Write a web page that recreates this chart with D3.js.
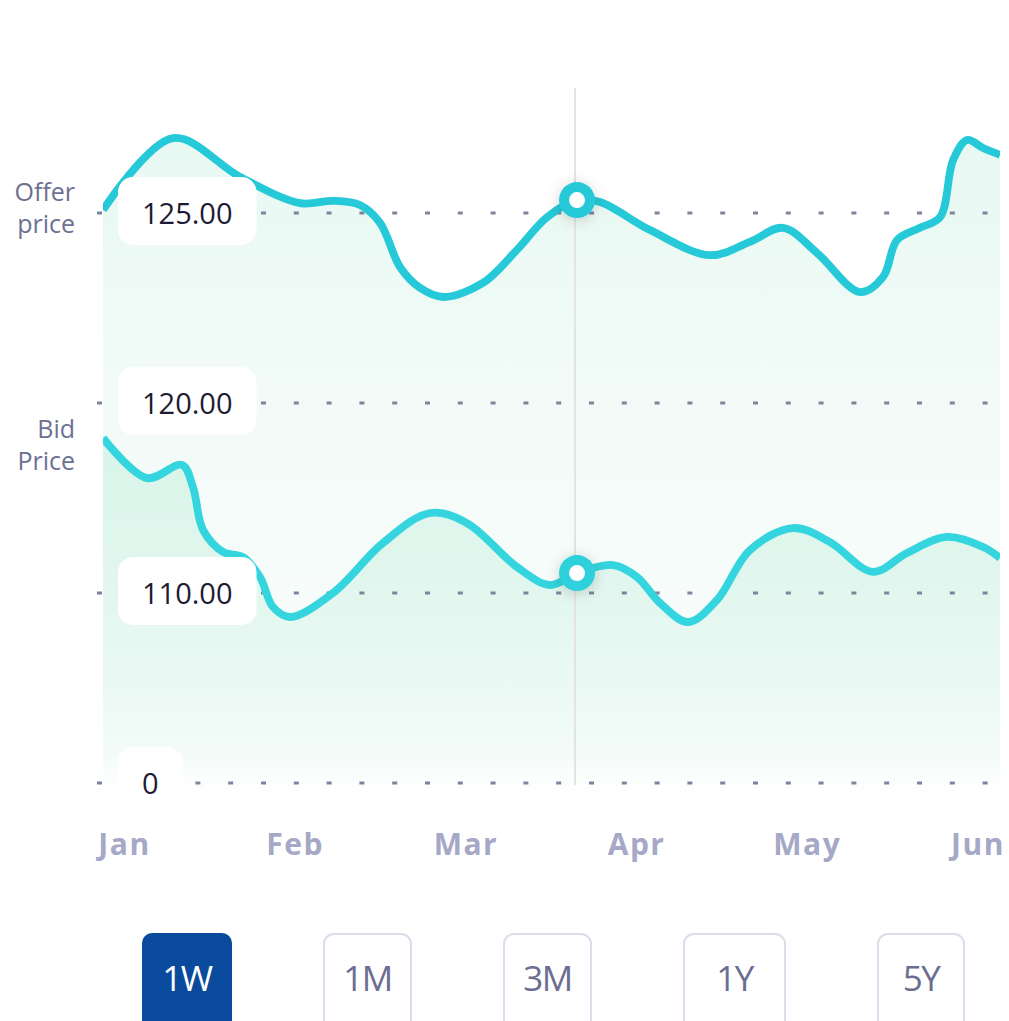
<!DOCTYPE html>
<html><head><meta charset="utf-8">
<script src="https://cdn.jsdelivr.net/npm/d3@7"></script>
<style>
html,body{margin:0;padding:0;background:#fff;}
svg{display:block;font-family:'Open Sans','Noto Sans',sans-serif;}
</style>
</head><body>
<svg id="chart" width="1009" height="1021"></svg>
<script>
// ---------- data ----------
const months = ["Jan","Feb","Mar","Apr","May","Jun"];
const priceTicks = [125, 120, 110, 0];
const priceTickLabels = ["125.00","120.00","110.00","0"];
const seriesNames = ["Offer\nprice","Bid\nPrice"];

// x position in months (0 = Jan, 5 = Jun)
const offerMonth = [-0.126,0.284,0.677,1.028,1.221,1.379,1.497,1.614,1.731,1.866,2.100,2.299,2.475,2.651,2.786,3.079,3.430,3.664,3.858,4.057,4.309,4.444,4.526,4.660,4.778,4.854,4.936,5.030,5.129];
const offerPrice = [125.08,126.97,125.95,125.26,125.32,125.21,124.74,123.58,123.03,122.79,123.16,124.03,124.89,125.34,125.29,124.55,123.89,124.24,124.61,123.95,122.92,123.32,124.29,124.61,124.89,126.39,126.92,126.71,126.53];

const bidMonth = [-0.126,0.132,0.337,0.401,0.460,0.577,0.694,0.794,0.870,0.970,1.221,1.514,1.790,2.006,2.299,2.493,2.651,2.862,3.003,3.137,3.301,3.471,3.664,3.916,4.133,4.385,4.584,4.819,5.030,5.129];
const bidPrice = [118.16,116.05,116.74,115.58,113.32,112.16,111.89,110.84,101.89,96.11,110.00,112.63,114.21,113.68,111.37,110.42,111.05,111.47,110.84,104.21,93.21,105.95,112.26,113.42,112.68,111.11,112.11,112.95,112.42,111.84];

const cursorMonth = 2.651;
const cursorOffer = 125.34;
const cursorBid = 111.05;

const ranges = ["1W","1M","3M","1Y","5Y"];
const activeRange = "1W";

// ---------- layout ----------
const svg = d3.select("#chart");
const plotLeft = 103, plotRight = 1000, plotBottom = 808;
const x = d3.scaleLinear().domain([0, 5]).range([124.5, 978]);
const y = d3.scaleLinear().domain([0, 110, 120, 125]).range([783, 593, 403, 213]);
const xMonths = d3.scalePoint().domain(months).range([124.5, 978]);

const defs = svg.append("defs");
defs.append("clipPath").attr("id","plotClip").append("rect")
  .attr("x",plotLeft).attr("y",0).attr("width",plotRight-plotLeft).attr("height",plotBottom);
const g1 = defs.append("linearGradient").attr("id","gOffer").attr("gradientUnits","userSpaceOnUse")
  .attr("x1",0).attr("y1",130).attr("x2",0).attr("y2",plotBottom);
[[0,"#e6f8f1",0.95],[0.45,"#f0faf6",0.8],[0.88,"#f6fcfa",0.6],[1,"#ffffff",0]].forEach(s=>
  g1.append("stop").attr("offset",s[0]).attr("stop-color",s[1]).attr("stop-opacity",s[2]));
const g2 = defs.append("linearGradient").attr("id","gBid").attr("gradientUnits","userSpaceOnUse")
  .attr("x1",0).attr("y1",440).attr("x2",0).attr("y2",plotBottom);
[[0,"#d3f3e6",0.8],[0.4,"#d8f4e9",0.7],[0.85,"#e8f8f2",0.5],[1,"#ffffff",0]].forEach(s=>
  g2.append("stop").attr("offset",s[0]).attr("stop-color",s[1]).attr("stop-opacity",s[2]));
const sh = defs.append("filter").attr("id","shadow").attr("x","-100%").attr("y","-100%").attr("width","300%").attr("height","300%");
sh.append("feDropShadow").attr("dx",0).attr("dy",2).attr("stdDeviation",7).attr("flood-color","#000").attr("flood-opacity",0.18);

const offerData = offerMonth.map((m,i)=>[m, offerPrice[i]]);
const bidData = bidMonth.map((m,i)=>[m, bidPrice[i]]);

const curve = d3.curveCatmullRom.alpha(0.5);
const area = d3.area().x(d=>x(d[0])).y0(plotBottom).y1(d=>y(d[1])).curve(curve);
const line = d3.line().x(d=>x(d[0])).y(d=>y(d[1])).curve(curve);

const plot = svg.append("g").attr("clip-path","url(#plotClip)");
// areas
plot.append("path").attr("d", area(offerData)).attr("fill","url(#gOffer)");
plot.append("path").attr("d", area(bidData)).attr("fill","url(#gBid)");

// dashed grid lines
svg.append("g").selectAll("line").data(priceTicks).join("line")
  .attr("x1", 97).attr("x2", plotRight)
  .attr("y1", d=>y(d)).attr("y2", d=>y(d))
  .attr("stroke","#7e849d").attr("stroke-width",3)
  .attr("stroke-dasharray","5 27.8");

// cursor line
svg.append("line").attr("x1", x(cursorMonth)-2).attr("x2", x(cursorMonth)-2)
  .attr("y1", 88).attr("y2", 785).attr("stroke","#e3e3e3").attr("stroke-width",2);

// lines
const lineClip = svg.append("g").attr("clip-path","url(#plotClip)");
lineClip.append("path").attr("d", line(offerData)).attr("fill","none")
  .attr("stroke","#26c9d8").attr("stroke-width",7.8);
lineClip.append("path").attr("d", line(bidData)).attr("fill","none")
  .attr("stroke","#34d5de").attr("stroke-width",7.8);

// tick label boxes
const tg = svg.append("g").selectAll("g").data(priceTicks).join("g");
tg.each(function(d,i){
  const g = d3.select(this);
  const rect = g.append("rect");
  const t = g.append("text").text(priceTickLabels[i])
    .attr("font-size",29).attr("fill","#1c1c33")
    .attr("text-anchor","middle").attr("dominant-baseline","central");
  const w = t.node().getComputedTextLength() + 48;
  const cy = y(d) - 2;
  rect.attr("x",118).attr("y",cy-34).attr("width",w).attr("height",68).attr("rx",15)
    .attr("fill","#fff");
  t.attr("x",118 + w/2).attr("y",cy+1);
});

// markers
[[cursorMonth,cursorOffer,"#26c9d8"],[cursorMonth,cursorBid,"#2fd0dc"]].forEach(p=>{
  const cx = x(p[0]), cy = y(p[1]);
  svg.append("circle").attr("cx",cx).attr("cy",cy).attr("r",18).attr("fill",p[2]).attr("filter","url(#shadow)");
  svg.append("circle").attr("cx",cx).attr("cy",cy).attr("r",8).attr("fill","#fff");
});

// series names
const nameY = [[201,233],[438,470]];
seriesNames.forEach((n,i)=>{
  const t = svg.append("text").attr("text-anchor","end").attr("font-size",25).attr("fill","#6d7092");
  n.split("\n").forEach((s,j)=> t.append("tspan").attr("x",75).attr("y",nameY[i][j]).text(s));
});

// month labels
svg.append("g").selectAll("text").data(months).join("text")
  .attr("x", d=>xMonths(d)).attr("y", 855)
  .attr("text-anchor","middle").attr("font-size",30).attr("font-weight",700)
  .attr("letter-spacing",1.5).attr("fill","#a5a8c6").text(d=>d);

// range buttons
const btnWidths = [90,89,89,103,88];
let bx = 142;
const bg = svg.append("g");
ranges.forEach((r,i)=>{
  const w = btnWidths[i];
  const active = r === activeRange;
  bg.append("rect").attr("x", bx + (active?0:1)).attr("y", active?933:934)
    .attr("width", w - (active?0:2)).attr("height", 110).attr("rx", 10)
    .attr("fill", active ? "#0a4a9c" : "#fff")
    .attr("stroke", active ? "none" : "#dcdcea").attr("stroke-width", 2);
  bg.append("text").attr("x", bx + w/2).attr("y", 977)
    .attr("text-anchor","middle").attr("dominant-baseline","central")
    .attr("font-size",35).attr("font-weight",500).attr("letter-spacing",-1.5)
    .attr("fill", active ? "#ffffff" : "#6b6e91").text(r);
  bx += w + 91;
});
</script>
</body></html>
